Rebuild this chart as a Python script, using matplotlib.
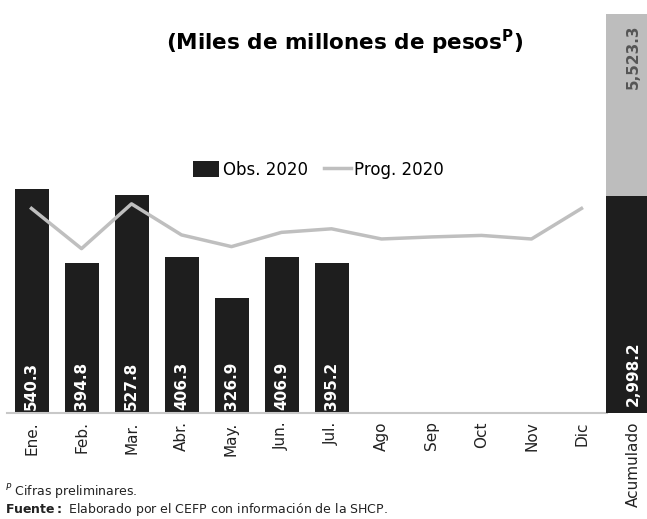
import matplotlib.pyplot as plt

meses = ["Ene.", "Feb.", "Mar.", "Abr.", "May.", "Jun.", "Jul.",
         "Ago", "Sep", "Oct", "Nov", "Dic"]
obs_2020 = [540.3, 394.8, 527.8, 406.3, 326.9, 406.9, 395.2]
prog_2020 = [502, 423, 511, 450, 427, 455, 462, 442, 446, 449, 442, 502]
acum_obs = 2998.2
acum_prog = 5523.3

W, H = 647, 519
fig = plt.figure(figsize=(W / 100, H / 100), dpi=100)

# monthly panel
ax = fig.add_axes([6.5 / W, (H - 413) / H, 600 / W, 403 / H])
x = range(len(meses))
bars = ax.bar(x[:len(obs_2020)], obs_2020, width=0.68, color="#1e1e1e",
              label="Obs. 2020", zorder=2)
line, = ax.plot(x, prog_2020, color="#bfbfbf", lw=2.5, label="Prog. 2020",
                zorder=3)
for i, v in enumerate(obs_2020):
    ax.text(i, 106, f"{v:,.1f}", rotation=90, ha="center", va="bottom",
            color="white", fontsize=11, fontweight="bold", zorder=4)

ax.set_xlim(-0.5, len(meses) - 0.5)
ax.set_ylim(100, 892)
ax.set_xticks(list(x))
ax.set_xticklabels(meses, rotation=90, fontsize=11, color="#222222")
ax.tick_params(axis="x", length=0, pad=6)
ax.set_yticks([])
for s in ["top", "right", "left"]:
    ax.spines[s].set_visible(False)
ax.spines["bottom"].set_color("#c8c8c8")
ax.spines["bottom"].set_linewidth(1.5)
ax.patch.set_alpha(0)

ax.legend([bars, line], ["Obs. 2020", "Prog. 2020"], loc="center",
          bbox_to_anchor=(0.52, (413 - 170) / 403), ncol=2,
          frameon=False, fontsize=12, handlelength=1.6, handleheight=1.1,
          handletextpad=0.2, columnspacing=1.0)

# accumulated panel
ax2 = fig.add_axes([606 / W, (H - 413) / H, 54 / W, 403 / H])
ax2.bar([0], [acum_prog], width=1.0, color="#bdbdbd")
ax2.bar([0], [acum_obs], width=1.0, color="#1e1e1e")
ax2.text(0, 90, f"{acum_obs:,.1f}", rotation=90, ha="center", va="bottom",
         color="white", fontsize=11, fontweight="bold")
ax2.text(0, acum_prog - 150, f"{acum_prog:,.1f}", rotation=90, ha="center",
         va="top", color="#555555", fontsize=11, fontweight="bold")
ax2.set_xlim(-0.5, 0.5)
ax2.set_ylim(0, 5580)
ax2.set_xticks([0])
ax2.set_xticklabels(["Acumulado"], rotation=90, fontsize=11, color="#222222")
ax2.tick_params(axis="x", length=0, pad=6)
ax2.set_yticks([])
for s in ax2.spines.values():
    s.set_visible(False)

fig.text(345 / W, 1 - 42 / H, r"(Miles de millones de pesos$^{\mathbf{P}}$)",
         ha="center", va="center", fontsize=15.5, fontweight="bold")
fig.text(5 / W, 1 - 492 / H, "$^{P}$ Cifras preliminares.", ha="left",
         va="center", fontsize=9, color="#222222")
fig.text(5 / W, 1 - 510 / H,
         r"$\mathbf{Fuente:}$ Elaborado por el CEFP con información de la SHCP.",
         ha="left", va="center", fontsize=9, color="#222222")

fig.savefig("out.png", dpi=100)
